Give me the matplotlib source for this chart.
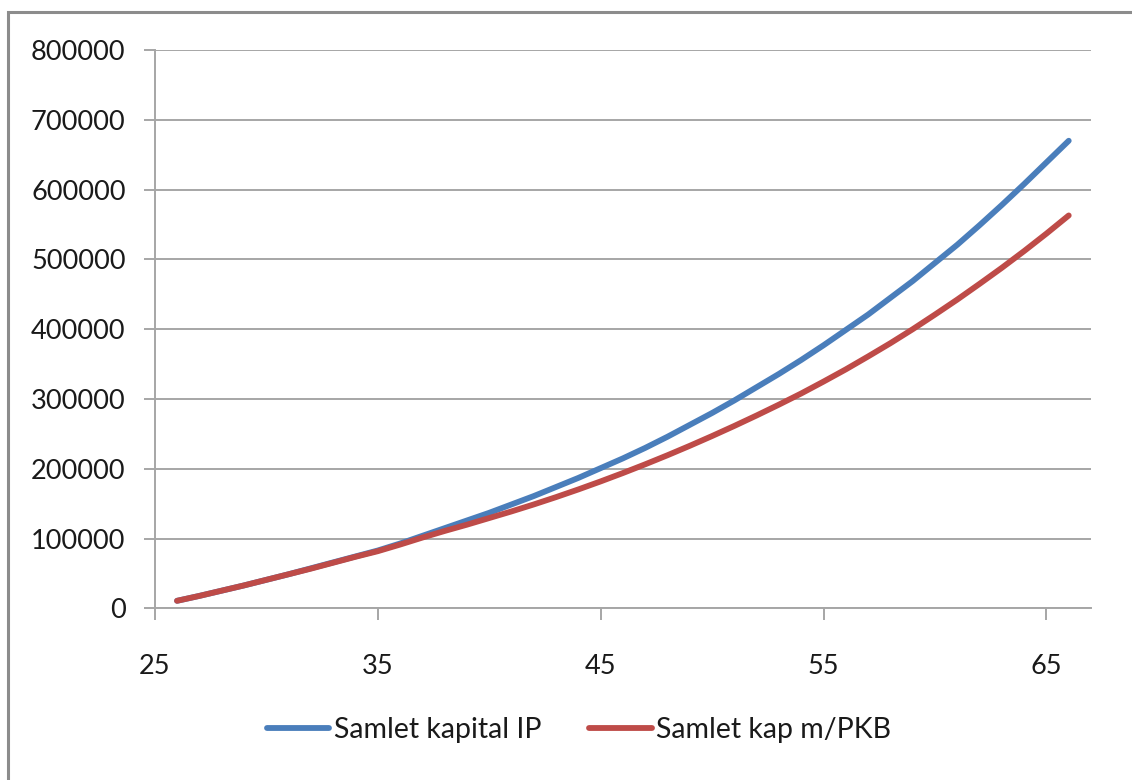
import matplotlib.pyplot as plt
from matplotlib.patches import Rectangle
from matplotlib.ticker import FuncFormatter

## Age (years) and accumulated capital for the two schemes
alder = [26, 27, 28, 29, 30, 31, 32, 33, 34, 35, 36, 37, 38, 39, 40, 41, 42, 43, 44, 45, 46,
         47, 48, 49, 50, 51, 52, 53, 54, 55, 56, 57, 58, 59, 60, 61, 62, 63, 64, 65, 66]
kapital_ip = [11000, 18000, 25500, 33000, 41000, 49000, 57500, 66000, 74500, 83000, 93000,
              104000, 115000, 126000, 137000, 149000, 161000, 174000, 187000, 201000, 215000,
              230000, 246000, 263000, 280000, 298000, 317000, 336000, 356000, 377000, 399000,
              421000, 445000, 469000, 495000, 521000, 549000, 578000, 608000, 639000, 670000]
kapital_pkb = [11000, 18000, 25500, 33000, 41000, 49000, 57000, 65500, 74000, 82000, 91500,
               101500, 111000, 120000, 129500, 139000, 149000, 159500, 170500, 182000, 194000,
               206500, 219500, 233000, 247000, 261500, 276500, 292000, 308000, 325000, 342500,
               361000, 380000, 400000, 421000, 442500, 465000, 488000, 512000, 537000, 563000]
serie_navne = ['Samlet kapital IP', 'Samlet kap m/PKB']

x_ticks = [25, 35, 45, 55, 65]
y_ticks = list(range(0, 800001, 100000))

plt.rcParams['font.family'] = ['Lato', 'DejaVu Sans']
fs = 19.5
grey = '#a6a6a6'

fig = plt.figure(figsize=(11.32, 7.8), dpi=100)
ax = fig.add_axes([0.1367, 0.2199, 0.8271, 0.716])

## the two capital curves
ax.plot(alder, kapital_ip, color='#4a7ebb', lw=4.2, solid_capstyle='round', label=serie_navne[0])
ax.plot(alder, kapital_pkb, color='#be4b48', lw=4.2, solid_capstyle='round', label=serie_navne[1])

ax.set_xlim(25, 67)
ax.set_ylim(0, 800000)
ax.set_xticks(x_ticks)
ax.set_yticks(y_ticks)
ax.yaxis.set_major_formatter(FuncFormatter(lambda v, p: f'{v:.0f}'))
ax.grid(axis='y', color=grey, lw=1.4)
ax.set_axisbelow(True)

for s in ['top', 'right']:
    ax.spines[s].set_visible(False)
for s in ['left', 'bottom']:
    ax.spines[s].set_color(grey)
    ax.spines[s].set_linewidth(1.4)

ax.tick_params(axis='y', direction='out', length=8, width=1.4, color=grey,
               labelsize=fs, pad=13, labelcolor='#1a1a1a')
ax.tick_params(axis='x', direction='out', length=8.5, width=1.4, color=grey,
               labelsize=fs, pad=24, labelcolor='#1a1a1a')

## legend under the plot
leg = fig.legend(loc='center', bbox_to_anchor=(0.5115, 0.064), ncol=2, frameon=False,
                 fontsize=20.5, handlelength=2.2, handletextpad=0.15, columnspacing=1.7)
for t in leg.get_texts():
    t.set_color('#1a1a1a')

## chart frame
fig.patches.append(Rectangle((8 / 1132, -0.05), 1.1, 1 - 12 / 780 + 0.05,
                             transform=fig.transFigure, fill=False,
                             edgecolor='#8c8c8c', lw=2.2))

fig.savefig('out.png', dpi=100)
